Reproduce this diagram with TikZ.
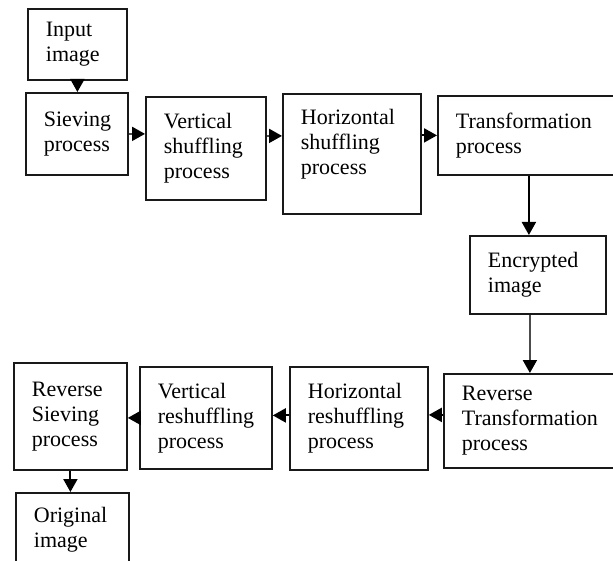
\documentclass[tikz,border=0pt]{standalone}
\usepackage{fontspec}
\setmainfont{Liberation Serif}
\usetikzlibrary{arrows.meta}

\tikzset{
  box/.style={draw=black!90, line width=1.8pt, anchor=north west, align=left,
              inner xsep=18pt, inner ysep=0pt,
              font=\fontsize{22}{25}\selectfont},
  arr/.style={line width=2pt, draw=black,
              -{Triangle[length=13pt,width=14pt]}},
  garr/.style={line width=2pt, draw=black!70,
               -{Triangle[length=13pt,width=14pt,color=black,fill=black]}}
}

\begin{document}
\begin{tikzpicture}[x=1pt, y=-1pt]
  \path[use as bounding box, clip] (0,0) rectangle (613,561);
  \fill[white] (0,0) rectangle (613,561);

  % encryption chain
  \node[box, text width=63pt,  minimum height=71pt]  (input)  at (27,8)   {Input\\image};
  \node[box, text width=66pt,  minimum height=82pt]  (sieve)  at (25,92)  {Sieving\\process};
  \node[box, text width=84pt,  minimum height=103pt] (vshuf)  at (145,96) {Vertical\\shuffling\\process};
  \node[box, text width=102pt, minimum height=120pt] (hshuf)  at (282,93) {Horizontal\\shuffling\\process\\\mbox{}};
  \node[box, text width=154pt, minimum height=79pt]  (trans)  at (437,95) {Transformation\\process};
  \node[box, text width=100pt, minimum height=78pt]  (enc)    at (469,235) {Encrypted\\image};

  % decryption chain
  \node[box, text width=154pt, minimum height=94pt]  (rtrans) at (443,373) {Reverse\\Transformation\\process};
  \node[box, text width=102pt, minimum height=103pt] (hresh)  at (289,366) {Horizontal\\reshuffling\\process};
  \node[box, text width=96pt,  minimum height=102pt] (vresh)  at (139,366) {Vertical\\reshuffling\\process};
  \node[box, text width=77pt,  minimum height=107pt] (rsieve) at (13,362)  {Reverse\\Sieving\\process};
  \node[box, text width=77pt,  minimum height=74pt]  (orig)   at (15,492)  {Original\\image};

  % connector anchors
  \path ([yshift=12.5pt]vshuf.east)  coordinate (v2h);
  \path ([xshift=-9pt]enc.north)     coordinate (t2e);
  \path ([xshift=-8pt]enc.south)     coordinate (e2r);
  \path ([yshift=6pt]rtrans.west)    coordinate (r2h);
  \path ([yshift=3pt]hresh.west)     coordinate (h2v);

  % connectors
  \draw[arr]  (input.south) -- (input.south |- sieve.north);
  \draw[garr] (sieve.east) -- (sieve.east -| vshuf.west);
  \draw[garr] (v2h) -- (v2h -| hshuf.west);
  \draw[arr]  (hshuf.east |- trans.west) -- (trans.west);
  \draw[arr]  (t2e |- trans.south) -- (t2e);
  \draw[garr] (e2r) -- (e2r |- rtrans.north);
  \draw[arr]  (r2h) -- (r2h -| hresh.east);
  \draw[arr]  (h2v) -- (h2v -| vresh.east);
  \draw[arr]  (vresh.west) -- (vresh.west -| rsieve.east);
  \draw[arr]  (rsieve.south) -- (rsieve.south |- orig.north);
\end{tikzpicture}
\end{document}
